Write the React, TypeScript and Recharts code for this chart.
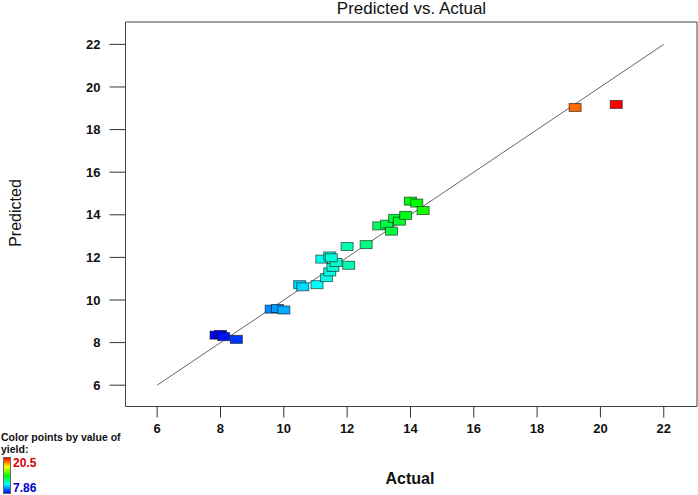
import { ReferenceArea, ReferenceLine, Scatter, ScatterChart, XAxis, YAxis } from "recharts";

const actual = [
  7.86, 8.0, 8.1, 8.5, 9.6, 9.8, 10.0, 10.5, 10.6, 11.05, 11.35, 11.45, 11.55, 11.65, 12.05, 11.2, 11.45, 11.5,
  12.0, 12.6, 13.0, 13.25, 13.4, 13.5, 13.65, 13.85, 14.0, 14.2, 14.4, 19.2, 20.5,
];
const predicted = [
  8.35, 8.38, 8.28, 8.15, 9.57, 9.6, 9.53, 10.72, 10.62, 10.72, 11.05, 11.32, 11.53, 11.76, 11.63, 11.92, 12.07, 11.98,
  12.51, 12.6, 13.48, 13.56, 13.23, 13.83, 13.7, 13.97, 14.64, 14.55, 14.2, 19.04, 19.18,
];
const ticks = [6, 8, 10, 12, 14, 16, 18, 20, 22];
const yieldMin = 7.86;
const yieldMax = 20.5;

const font = '"Liberation Sans", Arial, sans-serif';

// blue -> cyan -> green -> yellow -> red
const stops = [
  [0, 0, 255],
  [0, 255, 255],
  [0, 255, 0],
  [255, 255, 0],
  [255, 0, 0],
];

function colorFor(v: number) {
  const t = Math.max(0, Math.min(1, (v - yieldMin) / (yieldMax - yieldMin))) * (stops.length - 1);
  const i = Math.min(Math.floor(t), stops.length - 2);
  const f = t - i;
  const c = stops[i].map((a, k) => Math.round(a + (stops[i + 1][k] - a) * f));
  return `rgb(${c[0]},${c[1]},${c[2]})`;
}

const points = actual.map((x, i) => ({ x, y: predicted[i] }));

function Box(props: any) {
  const { cx, cy, payload } = props;
  return (
    <rect
      x={cx - 6}
      y={cy - 4}
      width={12}
      height={8}
      fill={colorFor(payload.x)}
      stroke="rgba(0,0,0,0.55)"
      strokeWidth={1}
    />
  );
}

export default function App() {
  const tick = { fontSize: 13, fontWeight: 700, fill: "#111", fontFamily: font };
  return (
    <div style={{ position: "absolute", left: 0, top: 0, width: 698, height: 495, fontFamily: font, background: "#fff" }}>
      <ScatterChart width={698} height={495} margin={{ top: 22, right: 1, bottom: 48.5, left: 45.5 }}>
        <XAxis
          type="number"
          dataKey="x"
          domain={[5, 23.05]}
          ticks={ticks}
          axisLine={false}
          tickLine={{ stroke: "#333" }}
          tickSize={11}
          tickMargin={6}
          height={40}
          tick={tick}
        />
        <YAxis
          type="number"
          dataKey="y"
          domain={[5, 23.05]}
          ticks={ticks}
          axisLine={false}
          tickLine={{ stroke: "#333" }}
          tickSize={16}
          tickMargin={9}
          width={80}
          tick={tick}
        />
        <ReferenceArea x1={5} x2={23.05} y1={5} y2={23.05} fill="none" stroke="#444" strokeWidth={1} />
        <ReferenceLine
          segment={[
            { x: 6, y: 6 },
            { x: 22, y: 22 },
          ]}
          stroke="#555"
          strokeWidth={0.9}
        />
        <Scatter data={points} shape={<Box />} isAnimationActive={false} />
      </ScatterChart>

      <div style={{ position: "absolute", left: 0, width: 823, top: 0, lineHeight: "18px", textAlign: "center", fontSize: 17, color: "#111" }}>
        Predicted vs. Actual
      </div>
      <div
        style={{
          position: "absolute",
          left: 16,
          top: 213,
          transform: "translate(-50%, -50%) rotate(-90deg)",
          fontSize: 16,
          color: "#111",
          whiteSpace: "nowrap",
        }}
      >
        Predicted
      </div>
      <div style={{ position: "absolute", left: 0, width: 820, top: 470, textAlign: "center", fontSize: 16, fontWeight: 700, color: "#111" }}>
        Actual
      </div>

      <div style={{ position: "absolute", left: 1, top: 431, fontSize: 10.5, fontWeight: 700, lineHeight: "12px", color: "#111" }}>
        Color points by value of
        <br />
        yield:
      </div>
      <div
        style={{
          position: "absolute",
          left: 3,
          top: 457,
          width: 6,
          height: 35,
          background: "linear-gradient(to bottom, #ff0000, #ffff00, #00ff00, #00ffff, #0000ff)",
          border: "1px solid #666",
        }}
      />
      <div style={{ position: "absolute", left: 13, top: 456, fontSize: 12, fontWeight: 700, color: "#d80000" }}>20.5</div>
      <div style={{ position: "absolute", left: 13, top: 481, fontSize: 12, fontWeight: 700, color: "#0000d0" }}>7.86</div>
    </div>
  );
}
